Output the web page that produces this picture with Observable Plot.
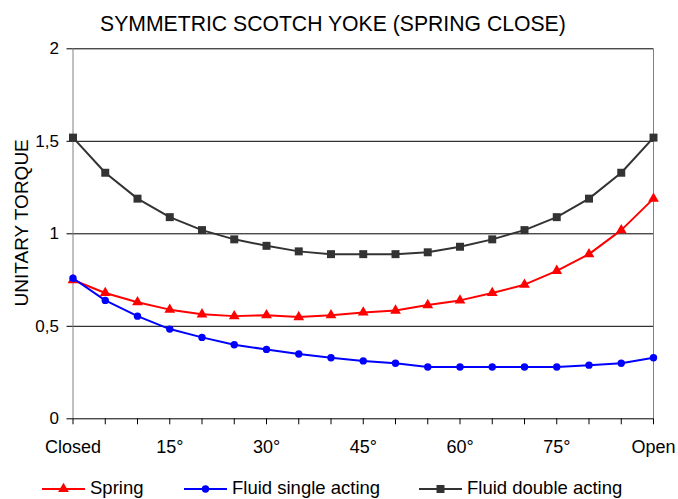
<!DOCTYPE html>
<html>
<head>
<meta charset="utf-8">
<script src="https://cdn.jsdelivr.net/npm/d3@7"></script>
<script src="https://cdn.jsdelivr.net/npm/@observablehq/plot@0.6"></script>
<style>
  body { margin: 0; background: #fff; font-family: "Liberation Sans", Arial, sans-serif; }
  #wrap { position: relative; width: 678px; height: 499px; overflow: hidden; background: #fff; }
  #title { position: absolute; left: 100px; top: 14px; font-size: 21.2px; line-height: 20px; white-space: nowrap; color: #000; }
  #chart { position: absolute; left: 0; top: 36px; }
  #legend { position: absolute; left: 0; top: 478px; width: 678px; height: 20px; font-size: 18.5px; line-height: 20px; white-space: nowrap; }
  .item { position: absolute; top: 0; display: flex; align-items: center; gap: 5px; }
  .item svg { display: block; }
</style>
</head>
<body>
<div id="wrap">
  <div id="title"></div>
  <div id="chart"></div>
  <div id="legend"></div>
</div>
<script>
const titleText = "SYMMETRIC SCOTCH YOKE (SPRING CLOSE)";
const yLabel = "UNITARY TORQUE";
const angles = [0, 5, 10, 15, 20, 25, 30, 35, 40, 45, 50, 55, 60, 65, 70, 75, 80, 85, 90];
const xTickValues = [0, 15, 30, 45, 60, 75, 90];
const xTickLabels = ["Closed", "15°", "30°", "45°", "60°", "75°", "Open"];
const yTicks = [0, 0.5, 1, 1.5, 2];
const seriesNames = ["Spring", "Fluid single acting", "Fluid double acting"];
const seriesColors = ["#ff0000", "#0000ff", "#333333"];
const seriesSymbols = ["triangle", "circle", "square"];
const spring = [0.75, 0.68, 0.63, 0.59, 0.565, 0.555, 0.56, 0.55, 0.56, 0.575, 0.585, 0.615, 0.64, 0.68, 0.725, 0.80, 0.89, 1.02, 1.19];
const fluidSingle = [0.76, 0.64, 0.555, 0.485, 0.44, 0.40, 0.375, 0.35, 0.33, 0.313, 0.30, 0.28, 0.28, 0.28, 0.28, 0.28, 0.29, 0.30, 0.33];
const fluidDouble = [1.52, 1.33, 1.19, 1.09, 1.02, 0.97, 0.935, 0.905, 0.89, 0.89, 0.89, 0.90, 0.93, 0.97, 1.02, 1.09, 1.19, 1.33, 1.52];

const seriesValues = [spring, fluidSingle, fluidDouble];
const rows = [];
seriesValues.forEach((vals, s) => vals.forEach((v, i) => rows.push({series: seriesNames[s], angle: angles[i], value: v})));

document.getElementById("title").textContent = titleText;

const labelMap = new Map(xTickValues.map((v, i) => [v, xTickLabels[i]]));
const font = "'Liberation Sans', Arial, sans-serif";
const symR = sym => sym === "square" ? 4.5 : sym === "triangle" ? 4 : 3.7;

const marks = [
  Plot.ruleY(yTicks.slice(1), {stroke: "#000", strokeWidth: 1}),
  Plot.ruleX([angles[angles.length - 1]], {stroke: "#808080", strokeWidth: 1}),
  Plot.ruleX([angles[0]], {stroke: "#808080", strokeWidth: 1}),
  Plot.ruleY([yTicks[0]], {stroke: "#000", strokeWidth: 1}),
  Plot.axisX({ticks: angles, tickFormat: d => labelMap.get(d) || "", tickSize: 6, tickPadding: 15, fontSize: 18, label: null, stroke: "#000"}),
  Plot.axisY({ticks: yTicks, tickFormat: d => String(d).replace(".", ","), tickSize: 6, tickPadding: 8, fontSize: 17, label: null, stroke: "#000"}),
  Plot.text([yLabel], {frameAnchor: "left", textAnchor: "middle", text: d => d, rotate: -90, dx: -51, dy: -11, fontSize: 19, fill: "#000"})
];
seriesNames.forEach((name, s) => {
  const data = rows.filter(r => r.series === name);
  marks.push(Plot.line(data, {x: "angle", y: "value", stroke: seriesColors[s], strokeWidth: 2}));
  marks.push(Plot.dot(data, {x: "angle", y: "value", symbol: seriesSymbols[s], r: symR(seriesSymbols[s]), fill: seriesColors[s], stroke: "none"}));
});

const chart = Plot.plot({
  width: 678,
  height: 434,
  marginLeft: 72.5,
  marginRight: 25,
  marginTop: 12.3,
  marginBottom: 51.7,
  style: {fontFamily: font, color: "#000", background: "#fff", overflow: "visible"},
  x: {domain: [angles[0], angles[angles.length - 1]]},
  y: {domain: [yTicks[0], yTicks[yTicks.length - 1]]},
  marks
});
document.getElementById("chart").appendChild(chart);

// legend
const legend = document.getElementById("legend");
const legendLeft = [42, 184, 419];
const ns = "http://www.w3.org/2000/svg";
seriesNames.forEach((name, s) => {
  const item = document.createElement("div");
  item.className = "item";
  item.style.left = legendLeft[s] + "px";
  const svg = document.createElementNS(ns, "svg");
  svg.setAttribute("width", 43); svg.setAttribute("height", 14);
  const line = document.createElementNS(ns, "line");
  line.setAttribute("x1", 0); line.setAttribute("x2", 43); line.setAttribute("y1", 8); line.setAttribute("y2", 8);
  line.setAttribute("stroke", seriesColors[s]); line.setAttribute("stroke-width", 2);
  svg.appendChild(line);
  const sym = seriesSymbols[s] === "triangle" ? d3.symbolTriangle : seriesSymbols[s] === "circle" ? d3.symbolCircle : d3.symbolSquare;
  const r = symR(seriesSymbols[s]);
  const p = document.createElementNS(ns, "path");
  p.setAttribute("d", d3.symbol(sym, Math.PI * r * r)());
  p.setAttribute("transform", "translate(21.5,8)");
  p.setAttribute("fill", seriesColors[s]);
  svg.appendChild(p);
  item.appendChild(svg);
  const t = document.createElement("span");
  t.textContent = name;
  item.appendChild(t);
  legend.appendChild(item);
});
</script>
</body>
</html>
